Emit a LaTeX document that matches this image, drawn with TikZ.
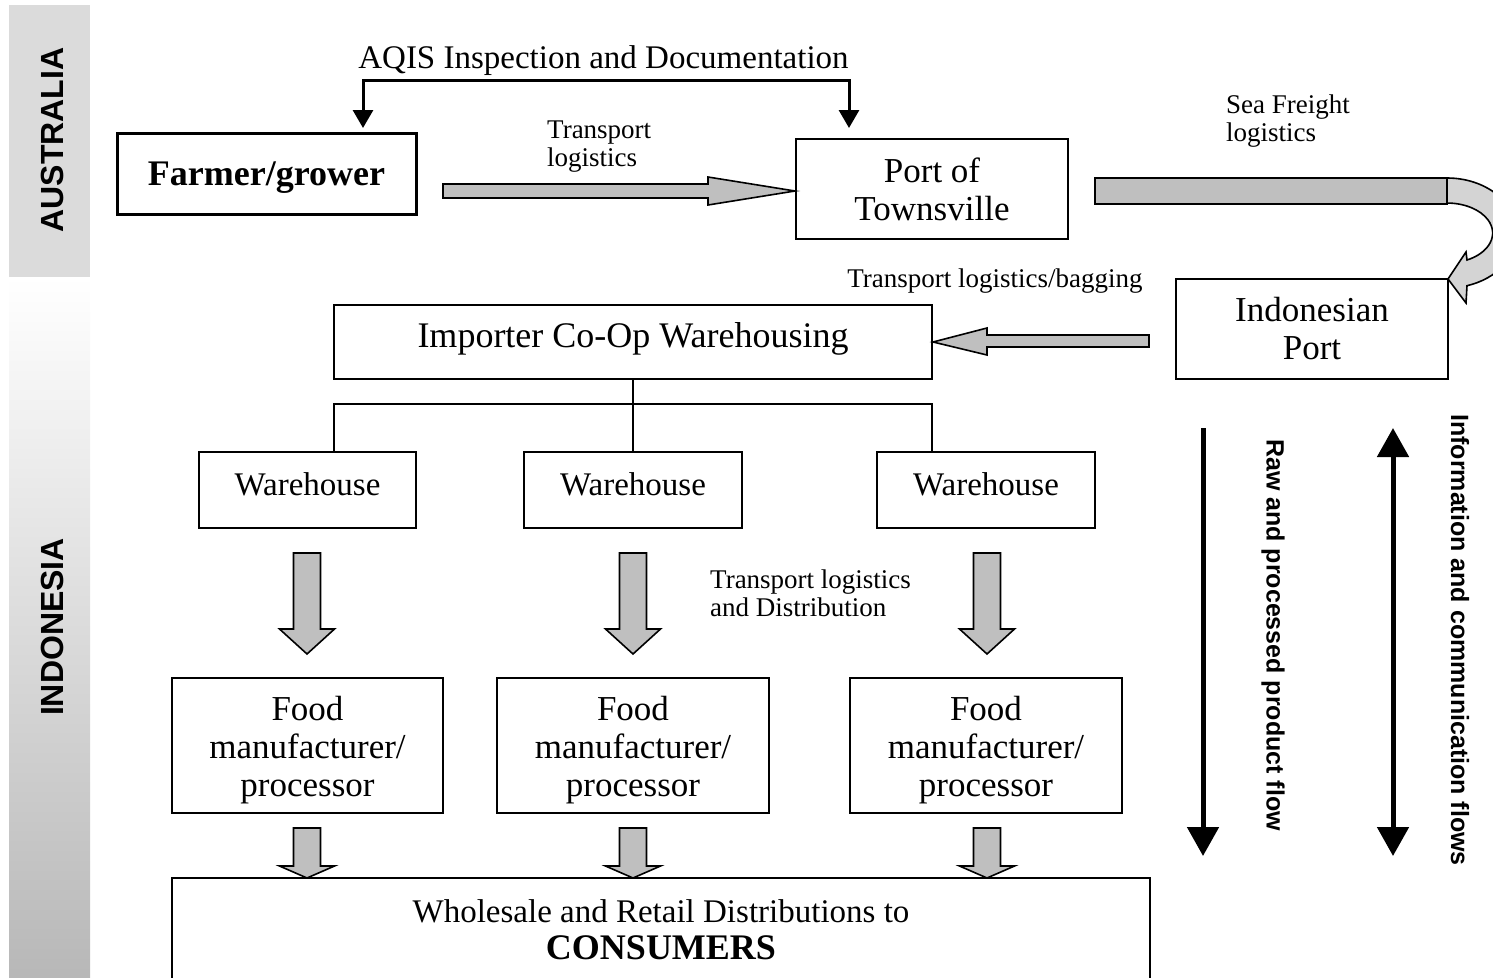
\documentclass[tikz,border=0pt]{standalone}
\usepackage{fontspec}
\setmainfont{Liberation Serif}
\setsansfont{Liberation Sans}
\usetikzlibrary{arrows.meta}
\newcommand\dnarr[4]{\draw[farrow] (#1-13.5,#2) -- (#1+13.5,#2) -- (#1+13.5,#3) -- (#1+27.5,#3) -- (#1,#4) -- (#1-27.5,#3) -- (#1-13.5,#3) -- cycle;}
\newcommand\foodtext{\rule{0pt}{34pt}Food\\manufacturer/\\processor}
\begin{document}
\begin{tikzpicture}[x=1pt,y=-1pt,
  box/.style={draw, line width=1.5pt, align=center, inner sep=0pt, font=\fontsize{35}{38}\selectfont},
  wbox/.style={box, minimum width=218pt, minimum height=76pt, text depth=12pt, font=\fontsize{33}{36}\selectfont},
  fbox/.style={box, line width=2pt, minimum width=272pt, minimum height=135pt},
  farrow/.style={draw=black, line width=1.6pt, fill=black!25, line join=miter},
  small/.style={inner sep=0pt, font=\fontsize{27}{28}\selectfont},
  side/.style={inner sep=0pt, font=\sffamily\bfseries\fontsize{32}{32}\selectfont},
  flow/.style={inner sep=0pt, font=\sffamily\bfseries\fontsize{25}{25}\selectfont},
  bigtip/.tip={Triangle[width=31pt,length=29pt]},
  smalltip/.tip={Triangle[width=20pt,length=18pt]}]
\useasboundingbox (0,0) rectangle (1493,977);
\clip (0,0) rectangle (1493,977);
% side bar
\fill[black!14] (9,5) rectangle (90,277);
\shade[shading angle=-45, top color=white, bottom color=black!28] (9,277) rectangle (90,977);
\node[side, rotate=90] (aus) at (52,140) {AUSTRALIA};
\node[side, rotate=90] (ind) at (52,627) {INDONESIA};
% boxes
\node[box, line width=3pt, minimum width=299pt, minimum height=81pt, text height=31pt, font=\fontsize{36}{40}\selectfont\bfseries] (farmer) at (266.5,173.5) {Farmer/grower};
\node[box, line width=2pt, minimum width=272pt, minimum height=100pt] (port) at (932,189) {Port of\\Townsville};
\node[box, line width=2pt, minimum width=272pt, minimum height=100pt] (idport) at (1312,329) {Indonesian\\Port};
\node[box, minimum width=598pt, minimum height=74pt, text depth=14pt, font=\fontsize{36}{40}\selectfont] (imp) at (633,342) {Importer Co-Op Warehousing};
\node[wbox, minimum width=217pt] (w1) at (307.5,490) {Warehouse};
\node[wbox] (w2) at (633,490) {Warehouse};
\node[wbox] (w3) at (986,490) {Warehouse};
\node[fbox, minimum width=271pt] (f1) at (307.5,745.5) {\foodtext};
\node[fbox] (f2) at (633,745.5) {\foodtext};
\node[fbox] (f3) at (986,745.5) {\foodtext};
\node[box, line width=2.5pt, minimum width=978pt, minimum height=104pt, font=\fontsize{33}{37}\selectfont] (cons) at (661,930) {Wholesale and Retail Distributions to\\{\fontsize{36}{37}\selectfont\bfseries CONSUMERS}};
% labels
\node[font=\fontsize{33}{36}\selectfont, inner sep=0pt] (aqis) at (603.5,61) {AQIS Inspection and Documentation};
\node[small, anchor=west, align=left] (tl) at (547,147) {Transport\\logistics};
\node[small, anchor=west, align=left] (sf) at (1226,121) {Sea Freight\\logistics};
\node[small] (tlb) at (995,281) {Transport logistics/bagging};
\node[small, anchor=west, align=left] (tld) at (710,593) {Transport logistics\\and Distribution};
\node[flow, rotate=-90] (raw) at (1273,635) {Raw and processed product flow};
\node[flow, rotate=-90] (info) at (1460,640) {Information and communication flows};
% AQIS bracket
\coordinate (a1) at (363,128);
\coordinate (a2) at (849,128);
\coordinate (atop) at (606,80);
\draw[line width=3pt, {smalltip}-{smalltip}] (a1) |- (atop) -| (a2);
% tree
\coordinate (j) at (633,404);
\coordinate (b1) at (334,452);
\coordinate (b3) at (932,452);
\draw[line width=1.2pt] (imp.south) -- (w2.north);
\draw[line width=1.2pt] (b1) |- (j) -| (b3);
% grey block arrows
\draw[farrow] (443,184) -- (708,184) -- (708,177) -- (795,191) -- (708,205) -- (708,198) -- (443,198) -- cycle;
\draw[farrow] (1149,335) -- (987,335) -- (987,328) -- (933,342) -- (987,355) -- (987,347) -- (1149,347) -- cycle;
\draw[farrow] (1095,178) rectangle (1447,204);
\draw[farrow, fill=black!17] (1447,178) arc[start angle=-90, end angle=73.4, x radius=70, y radius=55] -- (1466,303) -- (1448,279) -- (1466,252) -- (1467,260) arc[start angle=64, end angle=-90, x radius=45.6, y radius=30] -- cycle;
\dnarr{307}{553}{629}{654}
\dnarr{633}{553}{629}{654}
\dnarr{987}{553}{629}{654}
\dnarr{307}{828}{866}{878}
\dnarr{633}{828}{866}{878}
\dnarr{987}{828}{866}{878}
% right flow arrows
\coordinate (r1) at (1203,428);
\coordinate (r2) at (1203,856);
\coordinate (i1) at (1393,428);
\coordinate (i2) at (1393,856);
\draw[line width=5pt, -{bigtip}] (r1) -- (r2);
\draw[line width=5pt, {bigtip}-{bigtip}] (i1) -- (i2);
\end{tikzpicture}
\end{document}
